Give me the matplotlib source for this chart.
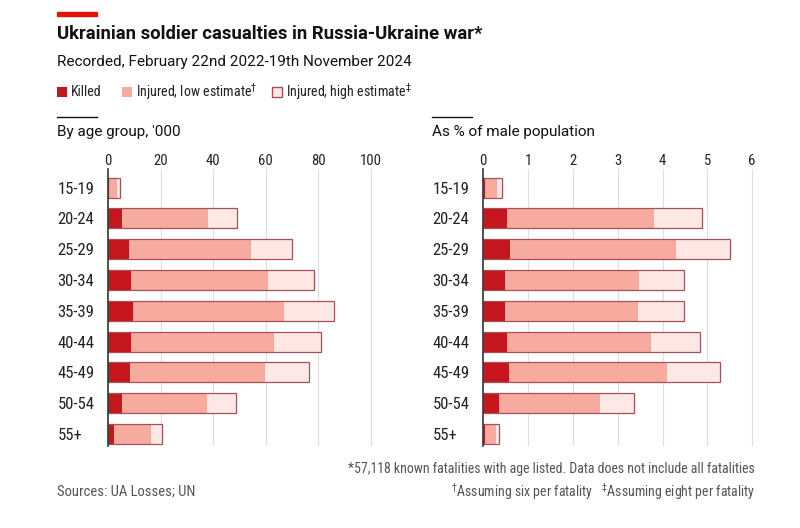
import matplotlib
matplotlib.use("Agg")
import matplotlib.pyplot as plt

# data
ages = ["15-19", "20-24", "25-29", "30-34", "35-39", "40-44", "45-49", "50-54", "55+"]

# left panel, '000 (segment end positions)
killed_k = [0.5, 5.3, 7.9, 8.6, 9.4, 8.9, 8.5, 5.3, 2.3]
low_end_k = [3.3, 38.1, 54.2, 60.9, 66.9, 63.1, 59.6, 37.7, 16.2]
high_end_k = [4.7, 48.9, 69.8, 78.3, 86.0, 81.0, 76.5, 48.5, 20.7]

# right panel, % of male population
killed_p = [0.03, 0.54, 0.60, 0.48, 0.48, 0.52, 0.58, 0.36, 0.03]
low_end_p = [0.31, 3.81, 4.29, 3.48, 3.46, 3.74, 4.11, 2.61, 0.28]
high_end_p = [0.41, 4.89, 5.50, 4.49, 4.47, 4.83, 5.28, 3.37, 0.36]

left_ticks = [0, 20, 40, 60, 80, 100]
right_ticks = [0, 1, 2, 3, 4, 5, 6]

RED = "#c4161c"
LOW = "#f7ab9f"
HIGH = "#fde8e5"
EDGE = "#a4525a"
GRID = "#e0e0e0"

FONT = ["Roboto", "DejaVu Sans"]
COND = ["Roboto Condensed", "Roboto", "DejaVu Sans"]
plt.rcParams["font.family"] = FONT

fig = plt.figure(figsize=(8, 5.28), dpi=100)
W, H = 800, 528


def px(x, y):
    return x / W, 1 - y / H


def draw_panel(ax, killed, low_end, high_end, ticks, xmax):
    ys = list(range(len(ages)))
    ax.barh(ys, high_end, height=0.65, color=HIGH, edgecolor="none", zorder=2)
    ax.barh(ys, low_end, height=0.65, color=LOW, edgecolor="none", zorder=3)
    ax.barh(ys, killed, height=0.65, color=RED, edgecolor="none", zorder=4)
    # outline round the whole bar
    ax.barh(ys, high_end, height=0.65, color="none", edgecolor=EDGE, linewidth=0.9, zorder=5)
    ax.set_xlim(0, xmax)
    ax.set_ylim(8.4, -0.6)
    ax.set_xticks(ticks)
    ax.set_xticklabels([str(t) for t in ticks], family=COND)
    ax.xaxis.tick_top()
    ax.tick_params(axis="x", length=0, pad=1, labelsize=10.5, labelcolor="#222222")
    ax.set_yticks(ys)
    ax.set_yticklabels(ages, family=COND)
    ax.tick_params(axis="y", length=0, pad=36.5, labelsize=12, labelcolor="#222222")
    for lab in ax.get_yticklabels():
        lab.set_horizontalalignment("left")
    for t in ticks[1:]:
        ax.axvline(t, color=GRID, linewidth=0.9, zorder=1)
    for s in ["top", "right", "bottom"]:
        ax.spines[s].set_visible(False)
    ax.spines["left"].set_color("#333333")
    ax.spines["left"].set_linewidth(1.2)
    ax.spines["left"].set_zorder(6)


ax1 = fig.add_axes([108 / W, 1 - 446.3 / H, 273.5 / W, 277.1 / H])
draw_panel(ax1, killed_k, low_end_k, high_end_k, left_ticks, 104)

ax2 = fig.add_axes([483.3 / W, 1 - 446.3 / H, 277.8 / W, 277.1 / H])
draw_panel(ax2, killed_p, low_end_p, high_end_p, right_ticks, 6.2)

# header
fig.patches.append(plt.Rectangle(px(57, 16), 40 / W, 4 / H, transform=fig.transFigure,
                                 color="#e3120b", zorder=10))
fig.text(*px(57, 34), "Ukrainian soldier casualties in Russia-Ukraine war*",
         fontsize=13.3, fontweight="bold", va="center", color="#111111")
fig.text(*px(57, 62), "Recorded, February 22nd 2022-19th November 2024",
         fontsize=11, va="center", color="#111111")

# legend
leg = [(57, RED, "none", "Killed", 71),
       (122, LOW, "none", "Injured, low estimate$^{\u2020}$", 136),
       (272, HIGH, EDGE, "Injured, high estimate$^{\u2021}$", 286)]
for x0, fc, ec, label, tx in leg:
    fig.patches.append(plt.Rectangle(px(x0, 97), 10 / W, 10 / H, transform=fig.transFigure,
                                     facecolor=fc, edgecolor=ec, linewidth=1.0, zorder=10))
    fig.text(*px(tx, 92), label, fontsize=10.1, va="center", color="#222222", family=COND)

# panel titles
for x0, title in [(57, "By age group, '000"), (432, "As % of male population")]:
    fig.add_artist(plt.Line2D([x0 / W, (x0 + 40) / W], [1 - 117 / H] * 2,
                              color="#111111", linewidth=1.0))
    fig.text(*px(x0, 132), title, fontsize=11, va="center", color="#111111")

# footer
fig.text(*px(57, 492), "Sources: UA Losses; UN", fontsize=10.5, va="center",
         color="#555555", family=COND)
fig.text(*px(755, 469), "*57,118 known fatalities with age listed. Data does not include all fatalities",
         fontsize=10, va="center", ha="right", color="#555555", family=COND)
fig.text(*px(755, 492), "$^{\u2020}$Assuming six per fatality   $^{\u2021}$Assuming eight per fatality",
         fontsize=10, va="center", ha="right", color="#555555", family=COND)

fig.savefig("out.png", dpi=100)
